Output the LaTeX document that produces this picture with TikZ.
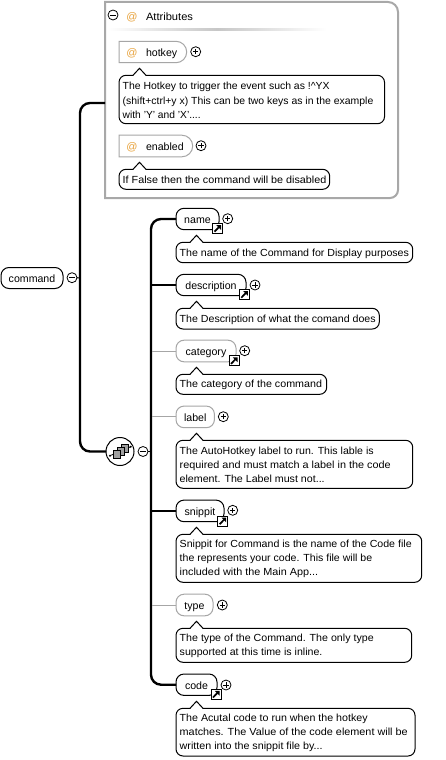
\documentclass[tikz,border=0pt]{standalone}
\usepackage{graphicx}
\usepackage{fontspec}
\setmainfont{Liberation Sans}
\usetikzlibrary{shapes.misc,calc,arrows.meta}
\definecolor{framegray}{HTML}{A8A8A8}
\definecolor{optgray}{HTML}{A6A6A6}
\definecolor{atorange}{HTML}{E8A33D}
\definecolor{seqgray}{HTML}{A0A0A0}
\newcommand{\lblfont}{\fontsize{10.6pt}{14pt}\selectfont}
\newcommand{\docfont}{\fontsize{10.3pt}{14.1pt}\selectfont}
\newsavebox{\lnbox}
% one printed line of documentation, fitted to the width it has in the picture
\newcommand{\fl}[2]{\sbox{\lnbox}{#2}\pgfmathsetmacro{\lnscale}{#1/\the\wd\lnbox}\scalebox{\lnscale}[1]{\usebox{\lnbox}}}
\tikzset{
  x=1pt,y=-1pt,
  every node/.style={inner sep=0pt,outer sep=0pt},
  lbltext/.style={font=\lblfont,text height=10.2pt,text depth=1.6pt},
  reqbox/.style={draw=black,line width=1pt,rounded corners=8pt,lbltext,fill=white},
  optbox/.style={draw=optgray,line width=1pt,rounded corners=8pt,lbltext,fill=white},
  attrbox/.style={draw=optgray,line width=1pt,rounded rectangle,rounded rectangle west arc=none,fill=white},
  docnode/.style={draw=black,line width=1pt,rounded corners=7pt,fill=white},
  doctext/.style={font=\docfont,align=left,anchor=west},
  wire/.style={line width=2.4pt,draw=black},
  thinwire/.style={line width=1pt,draw=optgray},
  pmbase/.style={circle,draw=black,line width=.8pt,minimum size=10pt,fill=white},
  plusc/.style={pmbase,path picture={
      \draw[line width=.7pt] ([xshift=-2.6pt]path picture bounding box.center)--([xshift=2.6pt]path picture bounding box.center);
      \draw[line width=.7pt] ([yshift=-2.6pt]path picture bounding box.center)--([yshift=2.6pt]path picture bounding box.center);}},
  minusc/.style={pmbase,path picture={
      \draw[line width=.7pt] ([xshift=-2.6pt]path picture bounding box.center)--([xshift=2.6pt]path picture bounding box.center);}},
  linkicon/.style={draw=black,line width=1pt,fill=white,minimum size=10pt},
  atsign/.style={font=\fontsize{11pt}{14pt}\selectfont,text=atorange,text height=10.2pt,text depth=1.6pt},
}
\newcommand{\docbox}[6]{%
  \pgfmathsetmacro{\dw}{#4-#2}\pgfmathsetmacro{\dh}{#5-#3}%
  \node[docnode,minimum width=\dw pt,minimum height=\dh pt] (#1) at ({(#2+#4)/2},{(#3+#5)/2}) {};
  \fill[white] (#2+14,#3+1) -- (#2+20.5,#3-7) -- (#2+27,#3+1) -- cycle;
  \draw[line width=1pt,line join=miter] (#2+14,#3) -- (#2+20.5,#3-7) -- (#2+27,#3);
  \node[doctext] (#1text) at (#2+3.7,{(#3+#5)/2+0.9}) {#6};
}
\newcommand{\linkmark}[3]{%
  \node[linkicon] (#1) at (#2,#3) {};
  \draw[line width=1.7pt] (#2-3,#3+3.2) -- (#2+1.5,#3-1.5);
  \fill (#2-1.2,#3-3.4) -- (#2+3.5,#3-3.4) -- (#2+3.5,#3+1.3) -- cycle;
}
\begin{document}
\begin{tikzpicture}
\useasboundingbox (0,0) rectangle (445,760);
\fill[white] (0,0) rectangle (445,760);

% attributes frame
\draw[draw=framegray,line width=2pt] (105,2) -- (388,2) arc[start angle=90,end angle=0,x radius=10,y radius=-10] -- (398,190)
  arc[start angle=0,end angle=-90,x radius=8,y radius=-8] -- (105,198) -- cycle;
\node[minimum width=293pt,minimum height=196pt] (attrs) at (251.5,100) {};
\shade[left color=white,right color=white,middle color=black!22] (108,29) rectangle (326,31);
\node[minusc] (attrminus) at (113,15) {};
\node[atsign] (attrat) at (132,16) {@};
\node[lbltext,anchor=west] (attrlabel) at (146,16) {\scalebox{1.05}[1]{Attributes}};

% hotkey
\node[attrbox,minimum width=67.7pt,minimum height=21.4pt] (hotkey) at (152.85,52) {};
\node[atsign] (hotat) at (132,52) {@};
\node[lbltext,anchor=west] (hottext) at (146,52) {hotkey};
\node[plusc] (hotplus) at (195.7,51.7) {};
\docbox{hotdoc}{119}{75.3}{384.5}{123.7}{\fl{207}{The Hotkey to trigger the event such as !\^{}YX}\\\fl{250.7}{(shift+ctrl+y x) This can be two keys as in the example}\\\fl{78}{with 'Y' and 'X'....}}

% enabled
\node[attrbox,minimum width=73.7pt,minimum height=21.6pt] (enabled) at (155.85,146) {};
\node[atsign] (enat) at (132,146) {@};
\node[lbltext,anchor=west] (entext) at (146,146) {enabled};
\node[plusc] (enplus) at (201,145.7) {};
\docbox{endoc}{119}{169.3}{329.7}{189.3}{\fl{203.7}{If False then the command will be disabled}}

% command
\node[reqbox,minimum width=62pt,minimum height=21pt] (command) at (32,278) {command};
\node[minusc] (cmdminus) at (72,277.7) {};
\coordinate (trunk) at (80,278);
\coordinate (attrtap) at (105,103);

% sequence
\node[circle,draw=black,line width=1pt,minimum size=28pt,fill=white] (seq) at (120,451.5) {};
\node[minusc] (seqminus) at (143,451.5) {};
\coordinate (rail) at (151,451.5);

\draw[wire,rounded corners=10pt] (attrtap) -| (trunk) |- (seq.west);
\draw[line width=1pt] (cmdminus.east) -- (trunk);
\draw[line width=1pt] (seqminus.east) -- (rail);

% sequence glyph
\draw[line width=.8pt] (110,455.7) -- (130.7,446.7);
\fill (110,455.7) circle (1.1pt) (130.7,446.7) circle (1.1pt);
\foreach \sx/\sy in {125/448.3,121/451.3,116.7/454.3}{
  \draw[line width=.7pt,fill=seqgray] (\sx-3.7,\sy-3.7) rectangle (\sx+3.7,\sy+3.7);
}

% element boxes
\node[reqbox,minimum width=43pt,minimum height=21.4pt] (name) at (197.5,219) {name};
\node[reqbox,minimum width=70pt,minimum height=21.4pt] (description) at (211,285) {description};
\node[optbox,minimum width=60pt,minimum height=21.6pt] (category) at (206,351) {category};
\node[optbox,minimum width=38.4pt,minimum height=21.6pt] (labelbox) at (195.2,416.9) {label};
\node[reqbox,minimum width=48pt,minimum height=21.6pt] (snippit) at (200,510.9) {snippit};
\node[optbox,minimum width=37pt,minimum height=21.6pt] (typebox) at (194.5,605) {type};
\node[reqbox,minimum width=41pt,minimum height=21.4pt] (codebox) at (196.5,684.7) {code};

% connectors
\draw[wire,rounded corners=10pt] (name.west) -| (rail) |- (codebox.west);
\draw[wire] (description.west) -- (description.west -| rail);
\draw[wire] (snippit.west) -- (snippit.west -| rail);
\draw[thinwire] (category.west) -- ($(category.west -| rail)+(1,0)$);
\draw[thinwire] (labelbox.west) -- ($(labelbox.west -| rail)+(1,0)$);
\draw[thinwire] (typebox.west) -- ($(typebox.west -| rail)+(1,0)$);

% link icons
\linkmark{namelink}{217.5}{228.5}
\linkmark{desclink}{244.3}{294.5}
\linkmark{catlink}{234}{360.7}
\linkmark{sniplink}{222.7}{521}
\linkmark{codelink}{216}{694.3}

% plus marks
\node[plusc] (nameplus) at (227.7,218.7) {};
\node[plusc] (descplus) at (255,285) {};
\node[plusc] (catplus) at (244.7,350.7) {};
\node[plusc] (labelplus) at (223.3,416.7) {};
\node[plusc] (snipplus) at (232.7,510.3) {};
\node[plusc] (typeplus) at (222.3,605) {};
\node[plusc] (codeplus) at (226,685) {};

% documentation
\docbox{namedoc}{176}{242.3}{412.7}{262.7}{\fl{229.3}{The name of the Command for Display purposes}}
\docbox{descdoc}{176}{308.3}{379.3}{329}{\fl{196}{The Description of what the comand does}}
\docbox{catdoc}{176}{374.3}{326.7}{394.3}{\fl{142.3}{The category of the command}}
\docbox{labeldoc}{176}{440.3}{412.7}{488.3}{\fl{194}{The AutoHotkey label to run. This lable is}\\\fl{211}{required and must match a label in the code}\\\fl{145}{element. The Label must not...}}
\docbox{snipdoc}{176}{534.3}{421.7}{582.3}{\fl{232}{Snippit for Command is the name of the Code file}\\\fl{192.5}{the represents your code. This file will be}\\\fl{138.5}{included with the Main App...}}
\docbox{typedoc}{176}{628.3}{411.7}{662.3}{\fl{194}{The type of the Command. The only type}\\\fl{142.7}{supported at this time is inline.}}
\docbox{codedoc}{176}{708.3}{415}{756}{\fl{188}{The Acutal code to run when the hotkey}\\\fl{228}{matches. The Value of the code element will be}\\\fl{143}{written into the snippit file by...}}
\end{tikzpicture}
\end{document}
